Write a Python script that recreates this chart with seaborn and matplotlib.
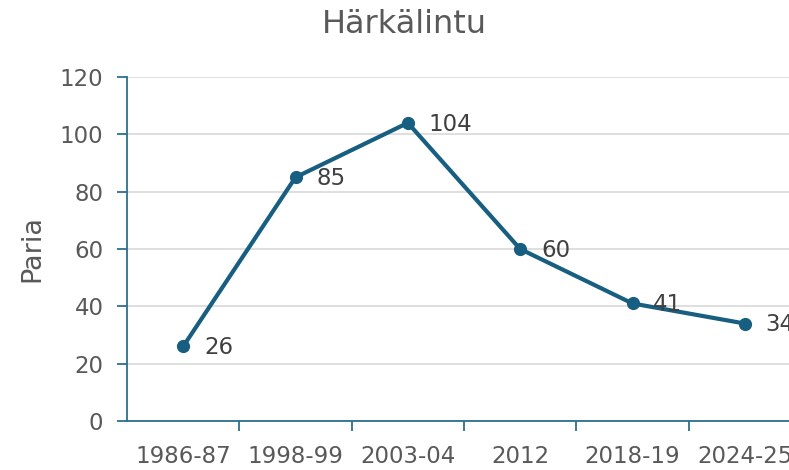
import matplotlib
matplotlib.use("Agg")
import matplotlib.pyplot as plt
import pandas as pd
import seaborn as sns
from matplotlib.ticker import FixedLocator

periods = ["1986-87", "1998-99", "2003-04", "2012", "2018-19", "2024-25"]
pairs = [26, 85, 104, 60, 41, 34]

line_color = "#175e80"
axis_color = "#2b6f8f"
text_color = "#595959"

sns.set_theme(style="white")
plt.rcParams["font.family"] = ["DejaVu Sans"]

df = pd.DataFrame({"period": periods, "pairs": pairs})

fig = plt.figure(figsize=(7.89, 4.70), dpi=100)
ax = fig.add_axes([127 / 789, 49 / 470, 674 / 789, 344 / 470])

sns.lineplot(data=df, x="period", y="pairs", ax=ax, sort=False,
             color=line_color, linewidth=3, marker="o", markersize=9.5,
             markeredgewidth=0)

for i, v in enumerate(pairs):
    ax.annotate(str(v), (i, v), xytext=(15, -1), textcoords="offset points",
                ha="left", va="center", fontsize=16.5, color="#404040")

ax.set_xlim(-0.5, len(periods) - 0.5)
ax.set_ylim(0, 120)
ax.set_yticks(range(0, 121, 20))
ax.yaxis.grid(True, color="#d9d9d9", linewidth=1.2)
ax.set_axisbelow(True)

ax.xaxis.set_minor_locator(FixedLocator([i + 0.5 for i in range(len(periods) - 1)]))
ax.tick_params(axis="x", which="major", length=0, pad=17, labelsize=16.5,
               labelcolor=text_color)
ax.tick_params(axis="x", which="minor", length=7, width=1.3, color=axis_color,
               direction="out", bottom=True)
ax.tick_params(axis="y", length=7, width=1.3, color=axis_color, direction="out",
               left=True, pad=10, labelsize=16.5, labelcolor=text_color)

for side in ["top", "right"]:
    ax.spines[side].set_visible(False)
for side in ["left", "bottom"]:
    ax.spines[side].set_color(axis_color)
    ax.spines[side].set_linewidth(1.3)

ax.set_xlabel("")
ax.set_ylabel("Paria", fontsize=19.5, color=text_color, labelpad=10)
fig.suptitle("Härkälintu", x=0.512, y=0.98, fontsize=23, color=text_color)

fig.savefig("out.png", dpi=100)
